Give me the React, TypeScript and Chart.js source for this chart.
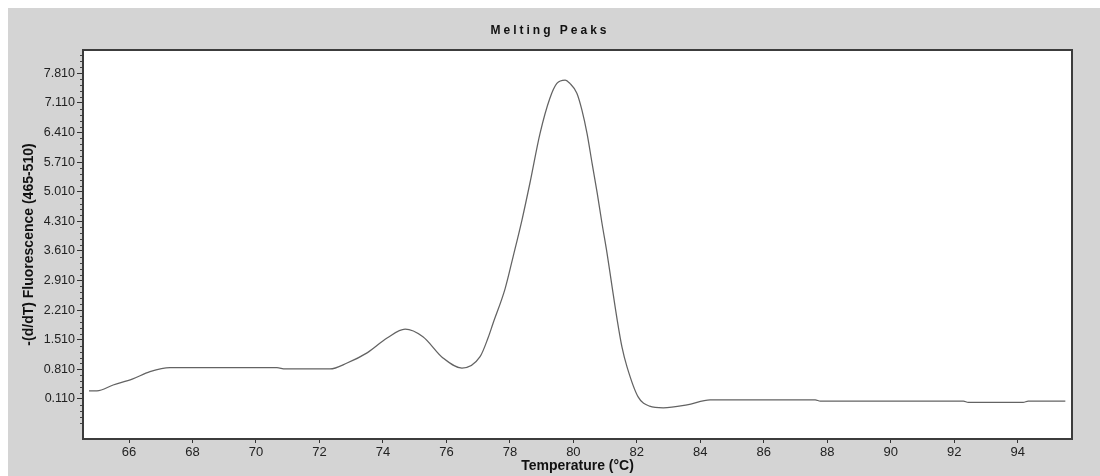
import React, { useEffect, useRef } from "react";
import { Chart, registerables } from "chart.js";

Chart.register(...registerables);

// Melting curve: temperature (°C) and -(d/dT) fluorescence readings
const temperatures = [
  64.74, 64.99, 65.5, 66.1, 66.66, 67.29, 68.5, 70.66, 70.92, 72.33, 72.87,
  73.5, 74.13, 74.7, 75.26, 75.89, 76.49, 77.06, 77.31, 77.47, 77.85,
  78.1, 78.38, 78.63, 78.95, 79.26, 79.48, 79.74, 79.89, 80.11, 80.27, 80.43,
  80.59, 80.75, 80.9, 81.06, 81.22, 81.38, 81.53, 81.69, 82.04, 82.4, 82.83,
  83.58, 84.31, 87.62, 87.78, 92.29, 92.44, 94.17, 94.33, 95.5,
];
const fluorescence = [
  0.3, 0.3, 0.44, 0.58, 0.755, 0.85, 0.85, 0.85, 0.82, 0.82, 0.96,
  1.2, 1.55, 1.76, 1.58, 1.08, 0.84, 1.11, 1.55, 1.9, 2.72,
  3.47, 4.34, 5.21, 6.39, 7.22, 7.57, 7.65, 7.57, 7.34, 6.94, 6.39,
  5.68, 4.98, 4.27, 3.56, 2.76, 1.98, 1.34, 0.87, 0.16, -0.06, -0.1,
  -0.03, 0.09, 0.09, 0.06, 0.06, 0.03, 0.03, 0.06, 0.06,
];

// Axis ticks
const xTickValues = [66, 68, 70, 72, 74, 76, 78, 80, 82, 84, 86, 88, 90, 92, 94];
const yTickValues = [0.11, 0.81, 1.51, 2.21, 2.91, 3.61, 4.31, 5.01, 5.71, 6.41, 7.11, 7.81];
const yMinorStep = 0.14;

const chartTitle = "Melting Peaks";
const xTitle = "Temperature (°C)";
const yTitle = "-(d/dT) Fluorescence (465-510)";

const FONT = '"Liberation Sans", Arial, sans-serif';

// White plot area, dark frame, minor y ticks and a letter-spaced heading
const plotDecor = {
  id: "plotDecor",
  beforeDraw(chart: any) {
    const { ctx, chartArea: a } = chart;
    ctx.save();
    ctx.fillStyle = "#ffffff";
    ctx.fillRect(a.left, a.top, a.right - a.left, a.bottom - a.top);
    ctx.restore();
  },
  afterDraw(chart: any) {
    const { ctx, chartArea: a } = chart;
    const y = chart.scales.y;
    ctx.save();
    // minor ticks on the value axis
    ctx.strokeStyle = "#444";
    ctx.lineWidth = 1;
    ctx.beginPath();
    for (let i = 0; i < yTickValues.length; i++) {
      for (let k = -4; k <= 4; k++) {
        if (k === 0) continue;
        if (k < 0 && i > 0) continue;
        const v = yTickValues[i] + k * yMinorStep;
        const py = Math.round(y.getPixelForValue(v)) + 0.5;
        if (py < a.top + 1 || py > a.bottom - 1) continue;
        ctx.moveTo(a.left - 3, py);
        ctx.lineTo(a.left, py);
      }
    }
    ctx.stroke();
    // frame around the plot
    ctx.strokeStyle = "#3c3c3c";
    ctx.lineWidth = 2;
    ctx.strokeRect(a.left, a.top, a.right - a.left, a.bottom - a.top);
    // heading
    ctx.fillStyle = "#111";
    ctx.font = `bold 12px ${FONT}`;
    (ctx as any).letterSpacing = "3px";
    ctx.textAlign = "center";
    ctx.textBaseline = "middle";
    ctx.fillText(chartTitle, chart.width / 2 - 4, 23);
    ctx.restore();
  },
};

export default function App() {
  const canvasRef = useRef<HTMLCanvasElement | null>(null);

  useEffect(() => {
    if (!canvasRef.current) return;
    const points = temperatures.map((t, i) => ({ x: t, y: fluorescence[i] }));
    const chart = new Chart(canvasRef.current, {
      type: "line",
      data: {
        datasets: [
          {
            data: points,
            borderColor: "#636363",
            borderWidth: 1.25,
            pointRadius: 0,
            fill: false,
            cubicInterpolationMode: "monotone",
          },
        ],
      },
      options: {
        responsive: false,
        animation: false,
        events: [],
        layout: { padding: { top: 42, right: 28, left: 0, bottom: 0 } },
        plugins: {
          legend: { display: false },
          title: { display: false },
          tooltip: { enabled: false },
        },
        scales: {
          x: {
            type: "linear",
            min: 64.55,
            max: 95.71,
            afterFit: (s: any) => {
              s.height = 37;
            },
            afterBuildTicks: (s: any) => {
              s.ticks = xTickValues.map((v) => ({ value: v }));
            },
            grid: {
              drawOnChartArea: false,
              drawTicks: true,
              tickLength: 4,
              tickColor: "#333",
              color: "#333",
            },
            border: { display: false },
            ticks: {
              autoSkip: false,
              maxRotation: 0,
              padding: 2,
              color: "#222",
              font: { family: FONT, size: 13 },
              callback: (v: any) => String(v),
            },
            title: {
              display: true,
              text: xTitle,
              color: "#111",
              font: { family: FONT, size: 14, weight: "bold" },
              padding: { top: 0, bottom: 1 },
            },
          },
          y: {
            type: "linear",
            min: -0.836,
            max: 8.36,
            afterFit: (s: any) => {
              s.width = 75;
            },
            afterBuildTicks: (s: any) => {
              s.ticks = yTickValues.map((v) => ({ value: v }));
            },
            grid: {
              drawOnChartArea: false,
              drawTicks: true,
              tickLength: 6,
              tickColor: "#333",
              color: "#333",
            },
            border: { display: false },
            ticks: {
              autoSkip: false,
              padding: 2,
              color: "#222",
              font: { family: FONT, size: 12.5 },
              callback: (v: any) => Number(v).toFixed(3),
            },
            title: {
              display: true,
              text: yTitle,
              color: "#111",
              font: { family: FONT, size: 14, weight: "bold" },
              padding: { top: 13, bottom: 0 },
            },
          },
        },
      },
      plugins: [plotDecor],
    });
    return () => chart.destroy();
  }, []);

  return (
    <div
      style={{
        position: "fixed",
        left: 8,
        top: 8,
        width: 1092,
        height: 468,
        background: "rgb(212,212,212)",
      }}
    >
      <canvas ref={canvasRef} width={1092} height={468} style={{ display: "block" }} />
    </div>
  );
}
